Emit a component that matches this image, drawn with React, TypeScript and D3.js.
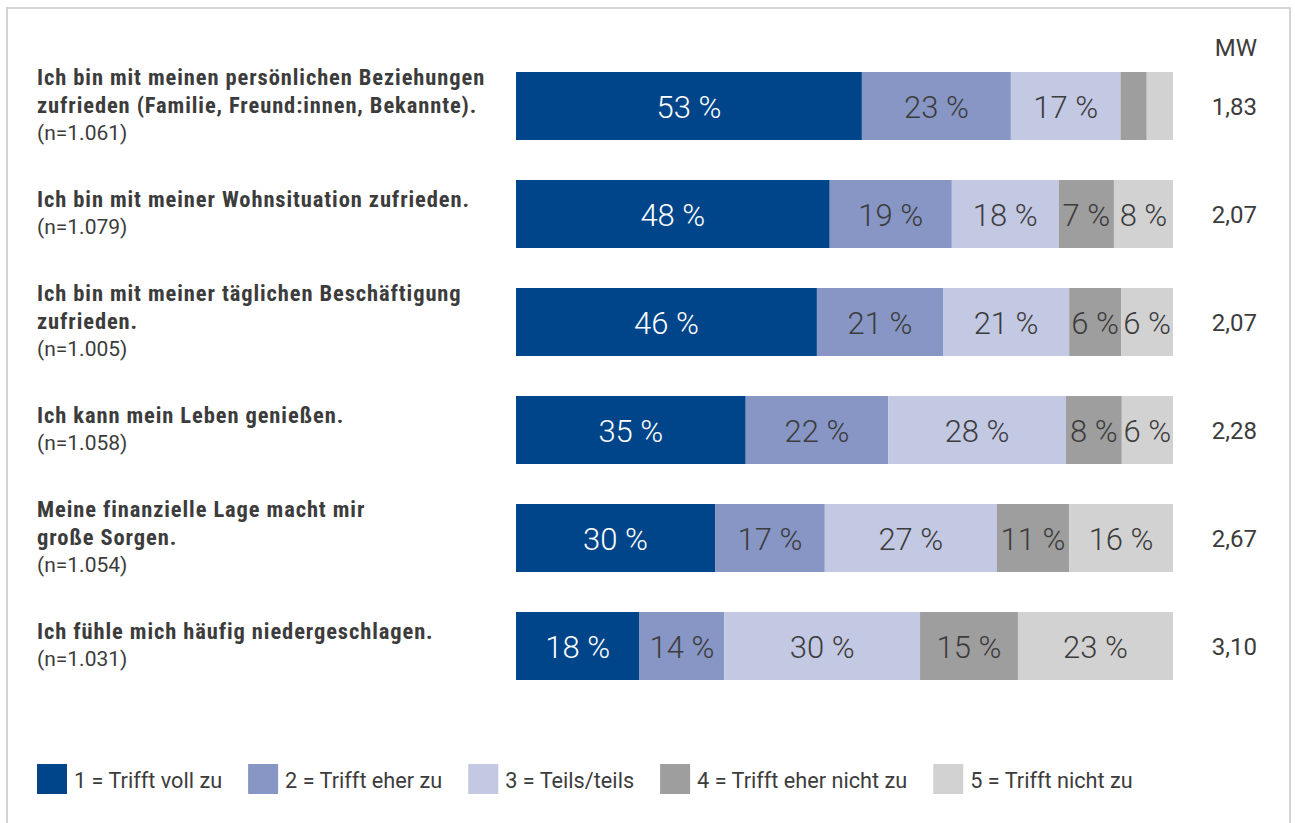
import { useEffect, useRef } from "react";
import * as d3 from "d3";

const WIDTH = 1295;
const HEIGHT = 823;
const COND = "'Roboto Condensed', 'Liberation Sans Narrow', 'DejaVu Sans Condensed', sans-serif";
const ROBOTO = "Roboto, 'Liberation Sans', sans-serif";
const TEXT = "#3c3c3c";

// statements (lines as in the original) and sample sizes
const statements = [
  ["Ich bin mit meinen persönlichen Beziehungen", "zufrieden (Familie, Freund:innen, Bekannte)."],
  ["Ich bin mit meiner Wohnsituation zufrieden."],
  ["Ich bin mit meiner täglichen Beschäftigung", "zufrieden."],
  ["Ich kann mein Leben genießen."],
  ["Meine finanzielle Lage macht mir", "große Sorgen."],
  ["Ich fühle mich häufig niedergeschlagen."],
];
const sampleSizes = ["(n=1.061)", "(n=1.079)", "(n=1.005)", "(n=1.058)", "(n=1.054)", "(n=1.031)"];

// bar shares per answer category (as drawn)
const trifftVoll = [52.7, 47.8, 45.8, 35.0, 30.3, 18.8];
const trifftEher = [22.7, 18.6, 19.2, 21.7, 16.7, 12.9];
const teilsTeils = [16.7, 16.3, 19.2, 27.1, 26.2, 29.8];
const eherNicht = [4.0, 8.4, 7.9, 8.5, 11.0, 14.9];
const nichtZu = [4.0, 9.0, 7.9, 7.8, 15.8, 23.6];

// printed percentage labels (null = not labelled)
const trifftVollLabel = [53, 48, 46, 35, 30, 18];
const trifftEherLabel = [23, 19, 21, 22, 17, 14];
const teilsTeilsLabel = [17, 18, 21, 28, 27, 30];
const eherNichtLabel = [null, 7, 6, 8, 11, 15];
const nichtZuLabel = [null, 8, 6, 6, 16, 23];

const meanValues = ["1,83", "2,07", "2,07", "2,28", "2,67", "3,10"];

const legendLabels = [
  "1 = Trifft voll zu",
  "2 = Trifft eher zu",
  "3 = Teils/teils",
  "4 = Trifft eher nicht zu",
  "5 = Trifft nicht zu",
];
const colors = ["#00458a", "#8796c4", "#c3c8e3", "#9e9e9e", "#d2d2d2"];
const labelColors = ["#ffffff", TEXT, TEXT, TEXT, TEXT];

export default function App() {
  const ref = useRef<SVGSVGElement | null>(null);

  useEffect(() => {
    const svg = d3.select(ref.current);
    svg.selectAll("*").remove();

    const series = [trifftVoll, trifftEher, teilsTeils, eherNicht, nichtZu];
    const labels = [trifftVollLabel, trifftEherLabel, teilsTeilsLabel, eherNichtLabel, nichtZuLabel];
    const rows = statements.map((lines, i) => {
      const vals = series.map((s) => s[i]);
      const total = d3.sum(vals);
      let acc = 0;
      const segs = vals.map((v, k) => {
        const s = { k, label: labels[k][i], x0: acc / total, x1: (acc + v) / total };
        acc += v;
        return s;
      });
      return { lines, n: sampleSizes[i], mw: meanValues[i], segs };
    });

    const x = d3.scaleLinear().domain([0, 1]).range([516, 1173]);
    const y = d3
      .scaleBand<number>()
      .domain(d3.range(rows.length))
      .range([72, 680])
      .paddingInner(40 / 108)
      .paddingOuter(0);
    const bh = y.bandwidth();

    // frame
    svg
      .append("rect")
      .attr("x", 7)
      .attr("y", 8)
      .attr("width", 1283)
      .attr("height", 830)
      .attr("fill", "#fff")
      .attr("stroke", "#d4d4d4")
      .attr("stroke-width", 2);

    svg
      .append("text")
      .attr("x", 1257)
      .attr("y", 48)
      .attr("text-anchor", "end")
      .attr("dominant-baseline", "central")
      .attr("font-family", ROBOTO)
      .attr("font-size", 24)
      .attr("fill", TEXT)
      .text("MW");

    const g = svg
      .selectAll("g.row")
      .data(rows)
      .join("g")
      .attr("class", "row")
      .attr("transform", (_d, i) => `translate(0,${y(i)})`);

    g.selectAll("rect")
      .data((d) => d.segs)
      .join("rect")
      .attr("x", (s) => x(s.x0))
      .attr("width", (s) => x(s.x1) - x(s.x0))
      .attr("height", bh)
      .attr("fill", (s) => colors[s.k]);

    g.selectAll("text.pct")
      .data((d) => d.segs.filter((s) => s.label != null))
      .join("text")
      .attr("class", "pct")
      .attr("x", (s) => (x(s.x0) + x(s.x1)) / 2)
      .attr("y", bh / 2 + 1)
      .attr("text-anchor", "middle")
      .attr("dominant-baseline", "central")
      .attr("font-family", ROBOTO)
      .attr("font-weight", 300)
      .attr("font-size", 31)
      .attr("fill", (s) => labelColors[s.k])
      .text((s) => `${s.label} %`);

    const lineH = 28;
    g.each(function (d) {
      const all = [...d.lines, d.n];
      const top = bh / 2 - ((all.length - 1) * lineH) / 2 - 1;
      d3.select(this)
        .selectAll("text.lbl")
        .data(all)
        .join("text")
        .attr("class", "lbl")
        .attr("x", 37)
        .attr("y", (_t, j) => top + j * lineH)
        .attr("dominant-baseline", "central")
        .attr("font-family", (_t, j) => (j < d.lines.length ? COND : ROBOTO))
        .attr("font-size", (_t, j) => (j < d.lines.length ? 22.5 : 21))
        .attr("letter-spacing", (_t, j) => (j < d.lines.length ? 0.9 : 0))
        .attr("font-weight", (_t, j) => (j < d.lines.length ? "bold" : "normal"))
        .attr("fill", TEXT)
        .text((t) => t);
    });

    g.append("text")
      .attr("x", 1257)
      .attr("y", bh / 2 + 1)
      .attr("text-anchor", "end")
      .attr("dominant-baseline", "central")
      .attr("font-family", ROBOTO)
      .attr("font-size", 24)
      .attr("fill", TEXT)
      .text((d) => d.mw);

    // legend
    const legend = svg.append("g").attr("transform", "translate(37,764)");
    let lx = 0;
    legendLabels.forEach((label, i) => {
      const item = legend.append("g").attr("transform", `translate(${lx},0)`);
      item.append("rect").attr("width", 30).attr("height", 30).attr("fill", colors[i]);
      const t = item
        .append("text")
        .attr("x", 37)
        .attr("y", 16)
        .attr("dominant-baseline", "central")
        .attr("font-family", ROBOTO)
        .attr("font-size", 21.7)
        .attr("fill", TEXT)
        .text(label);
      const w = (t.node() as SVGTextElement).getComputedTextLength();
      lx += 37 + w + 26;
    });
  }, []);

  return (
    <svg
      ref={ref}
      width={WIDTH}
      height={HEIGHT}
      style={{ position: "absolute", left: 0, top: 0, background: "#fff" }}
    />
  );
}
